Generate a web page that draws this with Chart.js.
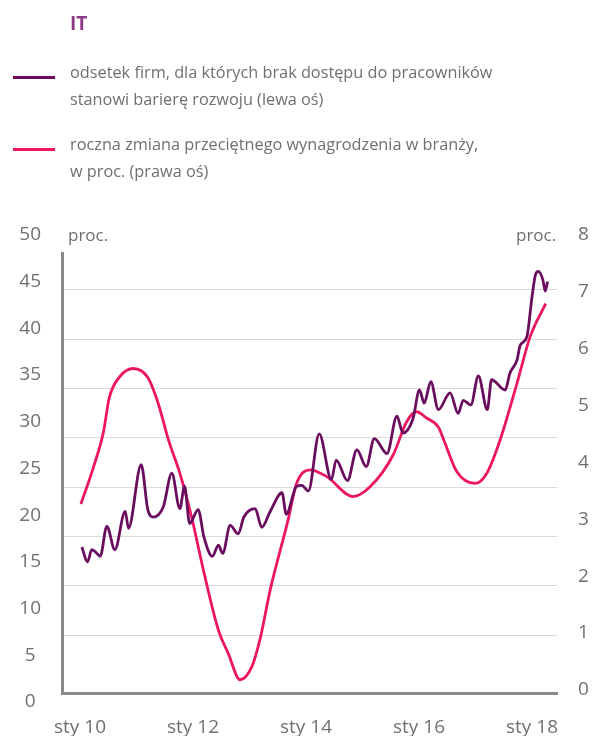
<!DOCTYPE html>
<html>
<head>
<meta charset="UTF-8">
<title>IT</title>
<script src="https://cdn.jsdelivr.net/npm/chart.js"></script>
<style>
  body { margin: 0; background: #fff; font-family: 'Open Sans', sans-serif; color: #6f6f6f; }
  #wrap { position: relative; width: 598px; height: 736px; overflow: hidden; }
  canvas { position: absolute; left: 0; top: 0; }
  .title { position: absolute; left: 70px; top: 10px; font-size: 19px; font-weight: 700; color: #8c3a85; }
  .leg { position: absolute; left: 70px; font-size: 16.3px; line-height: 27px; white-space: nowrap; }
  .swatch { position: absolute; left: 13px; width: 42px; height: 3px; }
  .unit { position: absolute; top: 223px; font-size: 17px; line-height: 24px; }
</style>
</head>
<body>
<div id="wrap">
  <canvas id="chart" width="598" height="736"></canvas>
  <div class="title">IT</div>
  <div class="swatch" style="top:76px; background:#6a0d5f"></div>
  <div class="leg" style="top:59px">odsetek firm, dla których brak dostępu do pracowników<br>stanowi barierę rozwoju (lewa oś)</div>
  <div class="swatch" style="top:148px; background:#ee1561"></div>
  <div class="leg" style="top:131px">roczna zmiana przeciętnego wynagrodzenia w branży,<br>w proc. (prawa oś)</div>
  <div class="unit" style="left:68px">proc.</div>
  <div class="unit" style="left:516px">proc.</div>
</div>

<script>
  // months counted from Jan 2010
  const purpleMonths = [0.4, 1.6, 2.5, 3.2, 4.3, 5.7, 7.4, 9.6, 10.3, 13.0, 14.4, 15.6, 17.7, 19.5, 21.2, 22.2, 23.3,
    25.1, 26.3, 28.1, 29.4, 30.3, 31.9, 33.6, 34.8, 37.2, 38.6, 40.4, 42.9, 43.8, 46.0, 47.1, 48.5, 50.8, 53.4,
    54.4, 56.8, 58.8, 60.8, 62.5, 65.2, 67.3, 68.6, 70.7, 72.1, 73.1, 74.5, 76.1, 78.6, 80.3, 81.4, 83.0, 84.6,
    86.5, 87.4, 90.3, 91.3, 92.8, 93.5, 94.9, 96.0, 96.7, 97.3, 98.3, 98.8, 99.3];
  const purpleValues = [16.6, 15.0, 16.3, 16.1, 15.6, 18.8, 16.3, 20.4, 18.6, 25.4, 20.6, 19.8, 20.9, 24.5, 20.7, 23.1, 19.1,
    20.6, 17.7, 15.6, 16.8, 15.9, 18.9, 18.0, 19.8, 20.7, 18.7, 20.4, 22.4, 20.1, 23.1, 23.2, 22.6, 28.7, 23.8,
    25.9, 23.7, 27.0, 25.2, 28.2, 26.6, 30.6, 28.8, 30.3, 33.4, 32.0, 34.3, 31.3, 33.1, 30.9, 32.3, 31.8, 34.9,
    31.3, 34.5, 33.4, 35.2, 36.6, 38.2, 39.1, 43.4, 45.7, 46.1, 45.2, 44.0, 45.0];

  const pinkMonths = [0.2, 2.8, 5.0, 6.2, 8.5, 11.3, 14.5, 16.6, 18.8, 21.2, 23.7, 26.2, 29.4, 31.5, 34.0, 36.5, 38.2,
    40.4, 44.2, 46.0, 48.9, 52.4, 58.0, 61.6, 66.5, 69.4, 71.5, 73.6, 76.1, 77.5, 80.0, 83.9, 86.4, 89.2, 92.8, 95.6, 98.9];
  const pinkValues = [3.27, 3.90, 4.54, 5.13, 5.51, 5.65, 5.48, 5.04, 4.39, 3.81, 3.04, 2.11, 1.05, 0.64, 0.18, 0.41, 0.88,
    1.76, 2.99, 3.63, 3.87, 3.75, 3.40, 3.57, 4.13, 4.72, 4.89, 4.78, 4.62, 4.34, 3.84, 3.63, 3.81, 4.39, 5.39, 6.21, 6.79];

  const xTickMonths = [0, 24, 48, 72, 96];
  const xTickLabels = ['sty 10', 'sty 12', 'sty 14', 'sty 16', 'sty 18'];
  const leftTicks = [0, 5, 10, 15, 20, 25, 30, 35, 40, 45, 50];
  const rightTicks = [0, 1, 2, 3, 4, 5, 6, 7, 8];
  const gridTicks = [1, 2, 3, 4, 5, 6, 7, 8];

  const tickFont = { family: 'Open Sans', size: 19 };
  const tickColor = '#707070';
  const axisColor = '#8a8a8a';

  const setTicks = list => scale => { scale.ticks = list.map(v => ({ value: v })); };

  new Chart(document.getElementById('chart'), {
    type: 'line',
    data: {
      datasets: [{
        label: 'odsetek firm, dla których brak dostępu do pracowników stanowi barierę rozwoju (lewa oś)',
        data: purpleMonths.map((m, i) => ({ x: m, y: purpleValues[i] })),
        yAxisID: 'y',
        borderColor: '#6a0d5f',
        borderWidth: 2.8,
        pointRadius: 0,
        cubicInterpolationMode: 'monotone',
        fill: false
      }, {
        label: 'roczna zmiana przeciętnego wynagrodzenia w branży, w proc. (prawa oś)',
        data: pinkMonths.map((m, i) => ({ x: m, y: pinkValues[i] })),
        yAxisID: 'y1',
        borderColor: '#ee1561',
        borderWidth: 2.8,
        pointRadius: 0,
        cubicInterpolationMode: 'monotone',
        fill: false
      }]
    },
    options: {
      responsive: false,
      animation: false,
      devicePixelRatio: 1,
      layout: { padding: { top: 253, left: 0, right: 0, bottom: 0 } },
      plugins: { legend: { display: false }, tooltip: { enabled: false } },
      scales: {
        x: {
          type: 'linear', position: 'bottom', min: -3.82, max: 101.3, bounds: 'data',
          afterBuildTicks: setTicks(xTickMonths),
          afterFit: s => { s.height = 43; },
          ticks: {
            callback: v => xTickLabels[xTickMonths.indexOf(v)],
            font: tickFont, color: tickColor, maxRotation: 0, autoSkip: false, padding: 23
          },
          grid: { display: false, drawTicks: false },
          border: { display: true, color: axisColor, width: 3 }
        },
        y: {
          position: 'left', min: 0.96, max: 48.07, bounds: 'data',
          afterBuildTicks: setTicks(leftTicks),
          afterFit: s => { s.width = 62; },
          ticks: { font: tickFont, color: tickColor, crossAlign: 'center', padding: 21, autoSkip: false },
          grid: { display: false, drawTicks: false },
          border: { display: true, color: axisColor, width: 3 }
        },
        yg: {
          position: 'left', min: -0.176, max: 8.749, bounds: 'data',
          afterBuildTicks: setTicks(gridTicks),
          afterFit: s => { s.width = 0; },
          ticks: { display: false },
          grid: { color: '#dadada', lineWidth: 1, drawTicks: false },
          border: { display: false }
        },
        y1: {
          position: 'right', min: -0.053, max: 7.68, bounds: 'data',
          afterBuildTicks: setTicks(rightTicks),
          afterFit: s => { s.width = 41; },
          ticks: { font: tickFont, color: tickColor, padding: 21, autoSkip: false },
          grid: { display: false, drawTicks: false },
          border: { display: false }
        }
      }
    }
  });
</script>
</body>
</html>
